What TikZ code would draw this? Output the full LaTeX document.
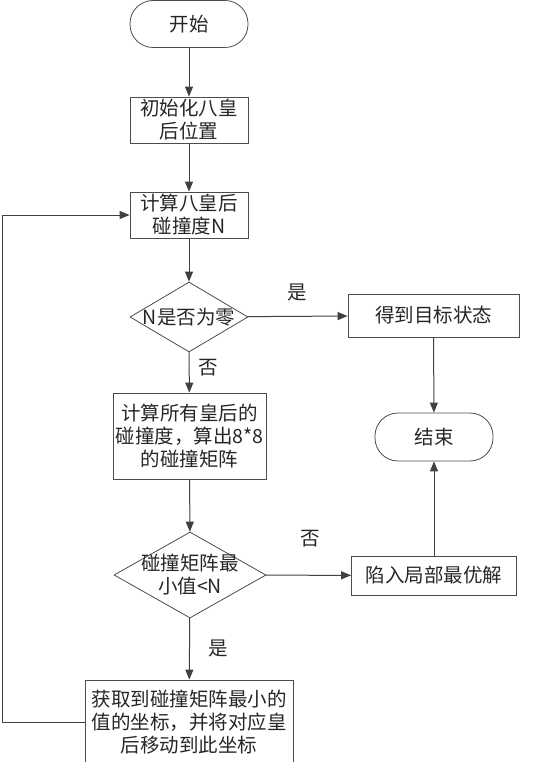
\documentclass[tikz,border=0pt]{standalone}
\usepackage{fontspec}
\newfontfamily\cjk{Noto Sans CJK SC}
\usepackage{tikz}
\usetikzlibrary{arrows.meta,shapes,shapes.geometric}

\begin{document}
\begin{tikzpicture}[x=1pt, y=-1pt, font=\cjk\fontsize{19.5}{23}\selectfont,
  every node/.style={text=black!85},
  box/.style={draw=black!70, line width=0.8pt, align=center, inner sep=0pt, minimum width=118pt, minimum height=46pt},
  term/.style={box, rounded corners=23pt, minimum height=47pt},
  decision/.style={draw=black!70, line width=0.8pt, diamond, align=center, inner sep=-9pt, aspect=1.75},
  flow/.style={draw=black!75, line width=1pt, -{Triangle[length=10pt,width=8pt]}}]
\useasboundingbox (0,0) rectangle (540,762);

\node[term] (start) at (189, 24) {开始};
\node[box] (init) at (189, 120) {初始化八皇\\后位置};
\node[box] (collide) at (189, 215) {计算八皇后\\碰撞度N};
\node[decision, minimum width=118pt, minimum height=70pt] (iszero) at (189, 317) {N是否为零};
\node[box, minimum width=153pt, minimum height=86pt] (matrix) at (189.5, 436) {计算所有皇后的\\碰撞度，算出8*8\\的碰撞矩阵};
\node[decision, minimum width=152pt, minimum height=86pt] (isless) at (190, 575) {碰撞矩阵最\\小值<N};
\node[box, minimum width=208pt, minimum height=84pt] (move) at (189, 722) {获取到碰撞矩阵最小的\\值的坐标，并将对应皇\\后移动到此坐标};

\node[box, minimum width=171pt, minimum height=43pt] (goal) at (433.5, 315.5) {得到目标状态};
\node[term, minimum height=48pt] (stop) at (434, 437) {结束};
\node[box, minimum width=165pt, minimum height=39pt] (trap) at (434, 575.5) {陷入局部最优解};

\node (yes1) at (297, 292) {是};
\node (no1) at (208, 368) {否};
\node (no2) at (310, 539) {否};
\node (yes2) at (218, 648) {是};

\draw[flow] (start) -- (init);
\draw[flow] (init) -- (collide);
\draw[flow] (collide) -- (iszero);
\draw[flow] (iszero) -- (matrix);
\draw[flow] (matrix) -- (isless);
\draw[flow] (isless) -- (move);
\draw[flow] (iszero) -- (goal);
\draw[flow] (isless) -- (trap);
\draw[flow] (goal) -- (stop);
\draw[flow] (trap) -- (stop);
\draw[flow] (move.west) -- ++(-82,0) |- (collide.west);
\end{tikzpicture}
\end{document}
